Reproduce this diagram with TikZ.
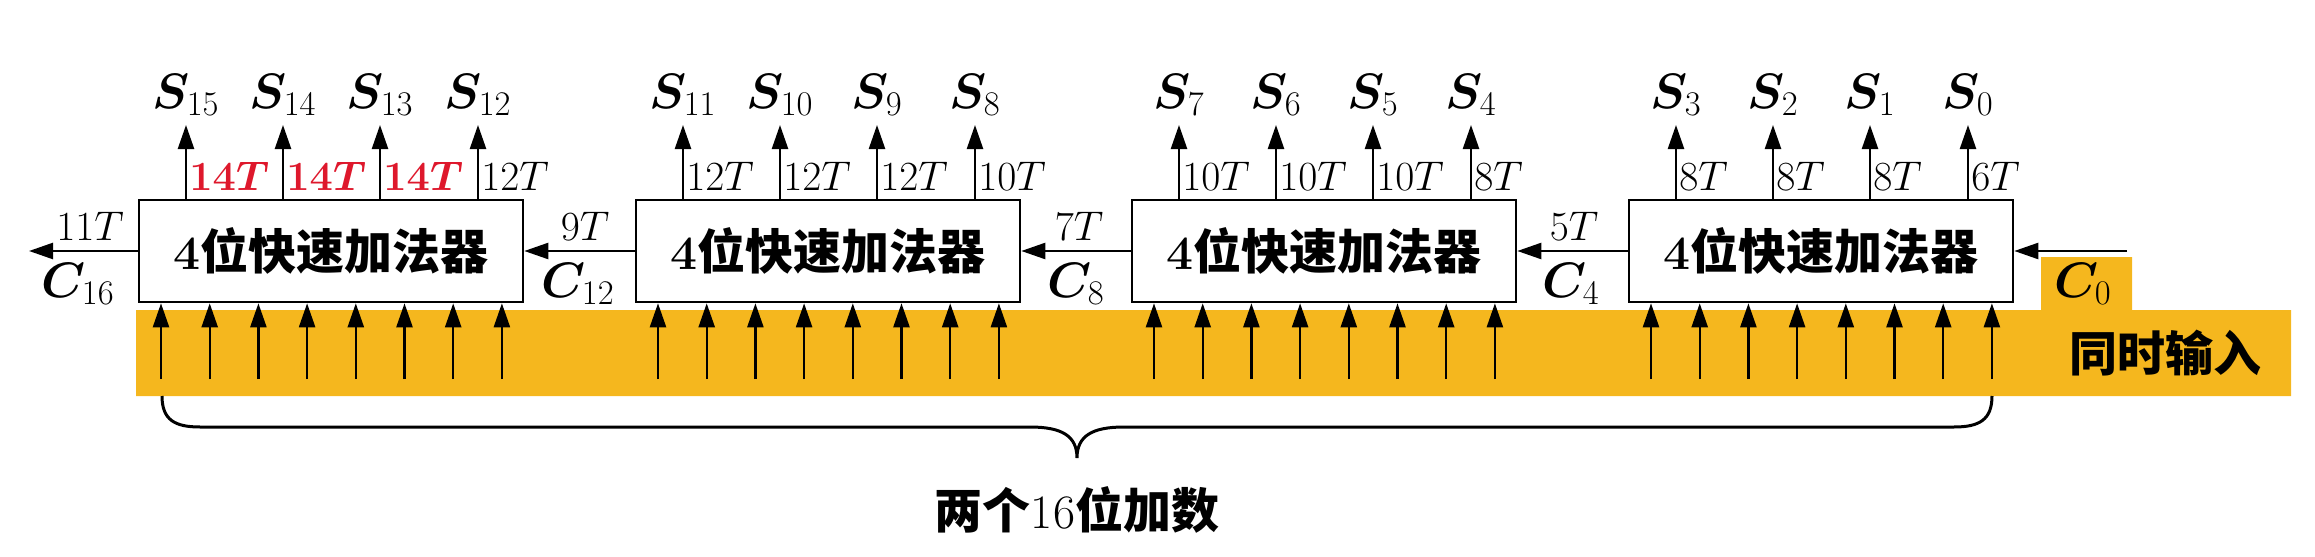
\documentclass[tikz,border=0pt]{standalone}
\usepackage{amsmath,bm}
\usepackage{fontspec}
\newfontfamily\cjk{Noto Sans CJK SC}
\usetikzlibrary{arrows.meta,calc}
\definecolor{bandc}{RGB}{245,183,30}
\definecolor{tred}{RGB}{222,24,44}
\tikzset{
  adder/.style={draw, line width=1.3pt, fill=white, minimum width=192pt, minimum height=51pt, inner sep=0pt, font=\fontsize{24}{28}\selectfont},
  arr/.style={line width=1.2pt, -{Triangle[length=12pt,width=8pt]}},
  tn/.style={anchor=base west, inner sep=0pt, font=\fontsize{20}{23}\selectfont},
  tb/.style={tn, text=tred, execute at begin node=\boldmath},
  sig/.style={inner sep=0pt, font=\fontsize{23}{27}\selectfont},
  clab/.style={anchor=base, inner sep=0pt, font=\fontsize{20}{23}\selectfont},
  cbig/.style={clab, font=\fontsize{23}{27}\selectfont},
  cjktext/.style={inner sep=0pt, font=\fontsize{24}{28}\selectfont\cjk\bfseries},
}
\begin{document}
\begin{tikzpicture}[x=0.5pt,y=-0.5pt]
\useasboundingbox (0,0) rectangle (2315,557);
% band
\fill[bandc] (136,310) -- (2041,310) -- (2041,257) -- (2132,257) -- (2132,310)
  -- (2291,310) -- (2291,396) -- (136,396) -- cycle;
% boxes
\foreach \n/\cx in {0/331,1/828,2/1324,3/1821}{
  \node[adder] (B\n) at (\cx,251) {\textbf{4}{\cjk\bfseries 位快速加法器}};
}
% input arrows
\foreach \n/\l in {0/139,1/636,2/1132,3/1629}{
  \foreach \i in {0,...,7}{
    \pgfmathsetmacro\xx{\l+22+48.7*\i}
    \coordinate (in\n\i) at (\xx,379);
    \draw[arr] (in\n\i) -- (in\n\i |- B\n.south);
  }
}
% output arrows
\foreach \x/\s/\t/\st/\n in {186/15/14/tb/0,283/14/14/tb/0,380/13/14/tb/0,478/12/12/tn/0,
  683/11/12/tn/1,780/10/12/tn/1,877/9/12/tn/1,975/8/10/tn/1,
  1179/7/10/tn/2,1276/6/10/tn/2,1373/5/10/tn/2,1471/4/8/tn/2,
  1676/3/8/tn/3,1773/2/8/tn/3,1870/1/8/tn/3,1968/0/6/tn/3}{
  \coordinate (o\s) at (\x,125);
  \draw[arr] (o\s |- B\n.north) -- (o\s);
  \node[sig, anchor=base] (S\s) at (\x,108) {$\bm{S}_{\s}$};
  \node[\st] (T\s) at (\x+3,190) {$\t T$};
}
% carries
\coordinate (c16) at (29,251);
\coordinate (c0) at (2127,251);
\draw[arr] (B0.west) -- (c16);
\draw[arr] (B1.west) -- (B0.east);
\draw[arr] (B2.west) -- (B1.east);
\draw[arr] (B3.west) -- (B2.east);
\draw[arr] (c0) -- (B3.east);
\node[clab] (t11) at (90,240) {$11T$};
\node[cbig] (C16) at (78,297) {$\bm{C}_{16}$};
\node[clab] (t9) at (585,240) {$9T$};
\node[cbig] (C12) at (578,297) {$\bm{C}_{12}$};
\node[clab] (t7) at (1079,240) {$7T$};
\node[cbig] (C8) at (1076,297) {$\bm{C}_{8}$};
\node[clab] (t5) at (1574,240) {$5T$};
\node[cbig] (C4) at (1571,297) {$\bm{C}_{4}$};
\node[cbig] (C0) at (2083,297) {$\bm{C}_{0}$};
% label in band
\node[cjktext] (sim) at (2165,353) {同时输入};
% brace
\coordinate (bl) at (162,396);
\coordinate (br) at (1992,396);
\coordinate (bt) at (1077,458);
\draw[line width=1.5pt] (bl) .. controls (162,420) and (175,427) .. (200,427) -- (1030,427)
  .. controls (1062,427) and (1077,436) .. (bt)
  .. controls (1077,436) and (1092,427) .. (1124,427) -- (1954,427)
  .. controls (1979,427) and (1992,420) .. (br);
\node[cjktext] (sum) at (1077,510) {两个{\rmfamily\mdseries 16}位加数};
\end{tikzpicture}
\end{document}
